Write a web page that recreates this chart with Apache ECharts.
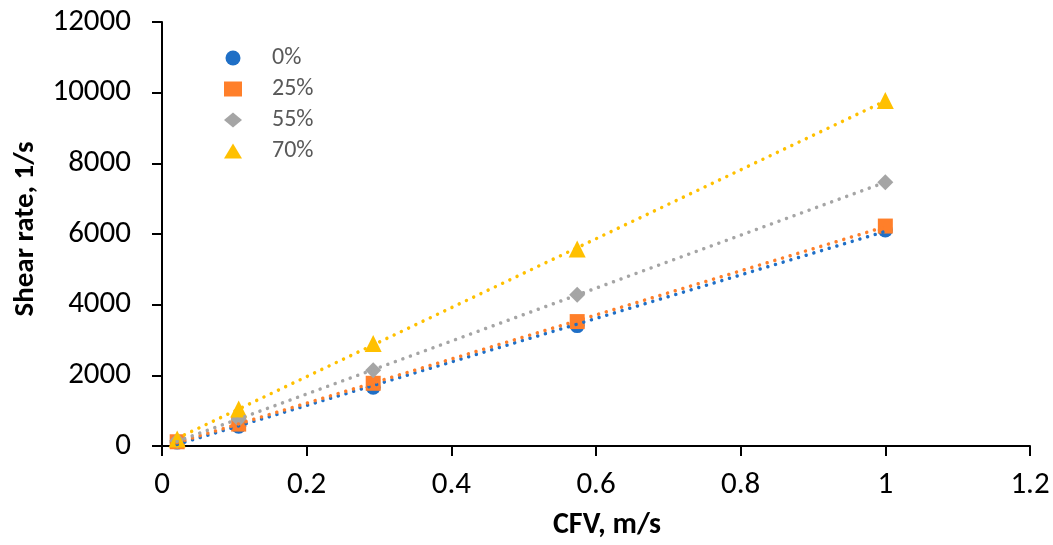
<!DOCTYPE html>
<html lang="en">
<head>
	<meta charset="utf-8">
	<script src="https://cdn.jsdelivr.net/npm/echarts@6/dist/echarts.min.js"></script>
	<style>
		html, body { margin: 0; padding: 0; background: #fff; }
		#main { width: 1053px; height: 545px; }
	</style>
</head>
<body>
<div id="main"></div>

<script type="text/javascript">
    // CFV, m/s
    var cfv = [0.021, 0.106, 0.292, 0.574, 1.0];
    // shear rate, 1/s
    var rate0 = [110, 560, 1662, 3408, 6113];
    var rate25 = [120, 620, 1775, 3521, 6225];
    var rate55 = [150, 760, 2141, 4282, 7465];
    var rate70 = [200, 1050, 2901, 5577, 9775];

    var names = ['0%', '25%', '55%', '70%'];
    var colors = ['#1f6fc6', '#ff7f2a', '#a5a5a5', '#ffc000'];
    var shapes = ['circle', 'rect', 'diamond', 'triangle'];
    var sizes = [15, 15, 16, 17];
    var allRates = [rate0, rate25, rate55, rate70];

    var font = 'Carlito, Lato, "Liberation Sans", sans-serif';

    // least squares line, like the excel trendline
    function trend(xs, ys) {
        var n = xs.length, sx = 0, sy = 0, sxx = 0, sxy = 0;
        for (var i = 0; i < n; i++) {
            sx += xs[i]; sy += ys[i];
            sxx += xs[i] * xs[i]; sxy += xs[i] * ys[i];
        }
        var b = (n * sxy - sx * sy) / (n * sxx - sx * sx);
        var a = (sy - b * sx) / n;
        var x0 = xs[0], x1 = xs[n - 1];
        return [[x0, a + b * x0], [x1, a + b * x1]];
    }

    var series = [];
    for (var k = 0; k < names.length; k++) {
        var pts = [];
        for (var i = 0; i < cfv.length; i++) pts.push([cfv[i], allRates[k][i]]);
        series.push({
            name: names[k],
            type: 'scatter',
            symbol: shapes[k],
            symbolSize: sizes[k],
            itemStyle: { color: colors[k], opacity: 1 },
            z: 2 + k,
            data: pts
        });
    }
    for (var k = 0; k < names.length; k++) {
        series.push({
            name: names[k] + ' trend',
            type: 'line',
            showSymbol: false,
            silent: true,
            z: 10,
            lineStyle: { color: colors[k], width: 3.5, type: [0.01, 8], cap: 'round' },
            data: trend(cfv, allRates[k])
        });
    }

    var myChart = echarts.init(document.getElementById('main'));
    var option = {
        animation: false,
        backgroundColor: '#fff',
        grid: { left: 162, right: 23, top: 22, bottom: 97 },
        legend: {
            data: names,
            orient: 'vertical',
            left: 219,
            top: 41,
            itemGap: 7,
            itemWidth: 18,
            itemHeight: 15,
            textStyle: { color: '#595959', fontSize: 24, lineHeight: 24, fontFamily: font, padding: [0, 0, 0, 25] }
        },
        xAxis: {
            type: 'value',
            min: 0,
            max: 1.2,
            interval: 0.2,
            name: 'CFV, m/s',
            nameLocation: 'middle',
            nameGap: 64,
            nameTextStyle: { color: '#000', fontSize: 30, fontWeight: 'bold', fontFamily: font, padding: [0, 0, 0, 22] },
            axisLine: { onZero: false, lineStyle: { color: '#000', width: 2 } },
            axisTick: { show: true, length: 10, lineStyle: { color: '#000', width: 2 } },
            axisLabel: { color: '#000', fontSize: 31, margin: 24, fontFamily: font },
            splitLine: { show: false }
        },
        yAxis: {
            type: 'value',
            min: 0,
            max: 12000,
            interval: 2000,
            name: 'Shear rate, 1/s',
            nameLocation: 'middle',
            nameGap: 122,
            nameTextStyle: { color: '#000', fontSize: 29, fontWeight: 'bold', fontFamily: font, padding: [0, 0, 0, 10] },
            axisLine: { show: true, lineStyle: { color: '#000', width: 2 } },
            axisTick: { show: true, length: 10, lineStyle: { color: '#000', width: 2 } },
            axisLabel: {
                color: '#000', fontSize: 31, margin: 31, fontFamily: font,
                formatter: function (v) { return String(v); }
            },
            splitLine: { show: false }
        },
        series: series
    };
    myChart.setOption(option);
</script>
</body>
</html>
